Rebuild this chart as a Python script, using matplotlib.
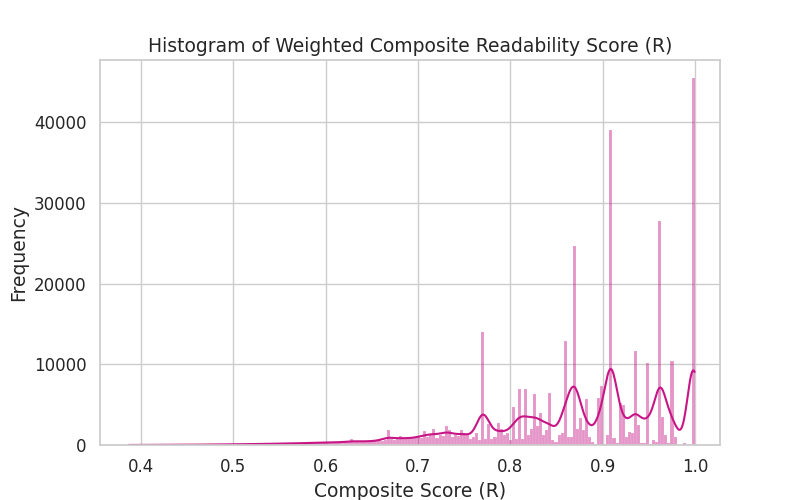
import numpy as np
import matplotlib
matplotlib.use("Agg")
import matplotlib.pyplot as plt
import seaborn as sns

# bin counts (187 bins of equal width from 0.3851 to 1.0031)
counts = [
    # 0-69 (tail)
    20, 0, 10, 0, 20, 0, 10, 20, 0, 30, 20, 10, 30, 20, 0, 30, 40, 20, 30, 40,
    30, 40, 50, 30, 60, 40, 50, 70, 60, 50, 80, 60, 90, 70, 80, 100, 90, 110, 80, 120,
    100, 130, 110, 150, 120, 140, 160, 130, 180, 150, 170, 200, 160, 220, 190, 210, 250, 200, 260, 230,
    280, 250, 300, 270, 320, 290, 350, 300, 380, 340,
    # 70-109
    300, 400, 350, 700, 380, 450, 400, 500, 420, 480,
    500, 450, 600, 550, 650, 1800, 700, 600, 750, 1100,
    800, 700, 900, 850, 1000, 950, 900, 1700, 1000, 1200,
    2000, 900, 1300, 1100, 2400, 1900, 1000, 1200, 1100, 1800,
    # 110-149
    1500, 1200, 800, 1000, 1500, 600, 14000, 700, 2600, 700,
    1000, 2700, 2000, 1200, 1500, 600, 4700, 800, 7000, 700,
    7000, 1300, 2000, 6300, 2400, 4000, 1200, 1800, 6500, 600,
    400, 1200, 1500, 12900, 1000, 1000, 24700, 2000, 3300, 1800,
    # 150-186
    5700, 1000, 400, 150, 5800, 7300, 100, 1200, 39000, 900,
    300, 5200, 5000, 1000, 1600, 1500, 11700, 2500, 200, 200,
    10200, 100, 600, 400, 27700, 3500, 1300, 200, 10400, 1000,
    0, 0, 300, 0, 0, 45500, 0,
]

title = "Histogram of Weighted Composite Readability Score (R)"
xlabel = "Composite Score (R)"
ylabel = "Frequency"

sns.set_theme(style="whitegrid", font_scale=1.2)

counts = np.array(counts, dtype=float)
edges = np.linspace(0.3851, 1.0031, len(counts) + 1)
width = edges[1] - edges[0]
centers = (edges[:-1] + edges[1:]) / 2

fig, ax = plt.subplots(figsize=(8, 5), dpi=100)
ax.bar(edges[:-1], counts, width=width, align="edge", color="mediumvioletred",
       alpha=0.45, edgecolor="white", linewidth=0.2)

# KDE computed from the histogram
bw = 0.0065
xs = np.linspace(centers[counts > 0].min(), 0.9995, 800)
dens = (counts[None, :] * np.exp(-0.5 * ((xs[:, None] - centers[None, :]) / bw) ** 2)).sum(1)
dens = dens / (bw * np.sqrt(2 * np.pi)) * width
ax.plot(xs, dens, color="mediumvioletred", linewidth=1.5)

ax.set_xlim(0.3556, 1.027)
ax.set_ylim(0, 47700)
ax.set_title(title, fontsize=13.5)
ax.set_xlabel(xlabel, fontsize=13.5)
ax.set_ylabel(ylabel, fontsize=13.5)
ax.tick_params(labelsize=12)
fig.subplots_adjust(left=0.125, right=0.9, bottom=0.11, top=0.88)
fig.savefig("out.png")
